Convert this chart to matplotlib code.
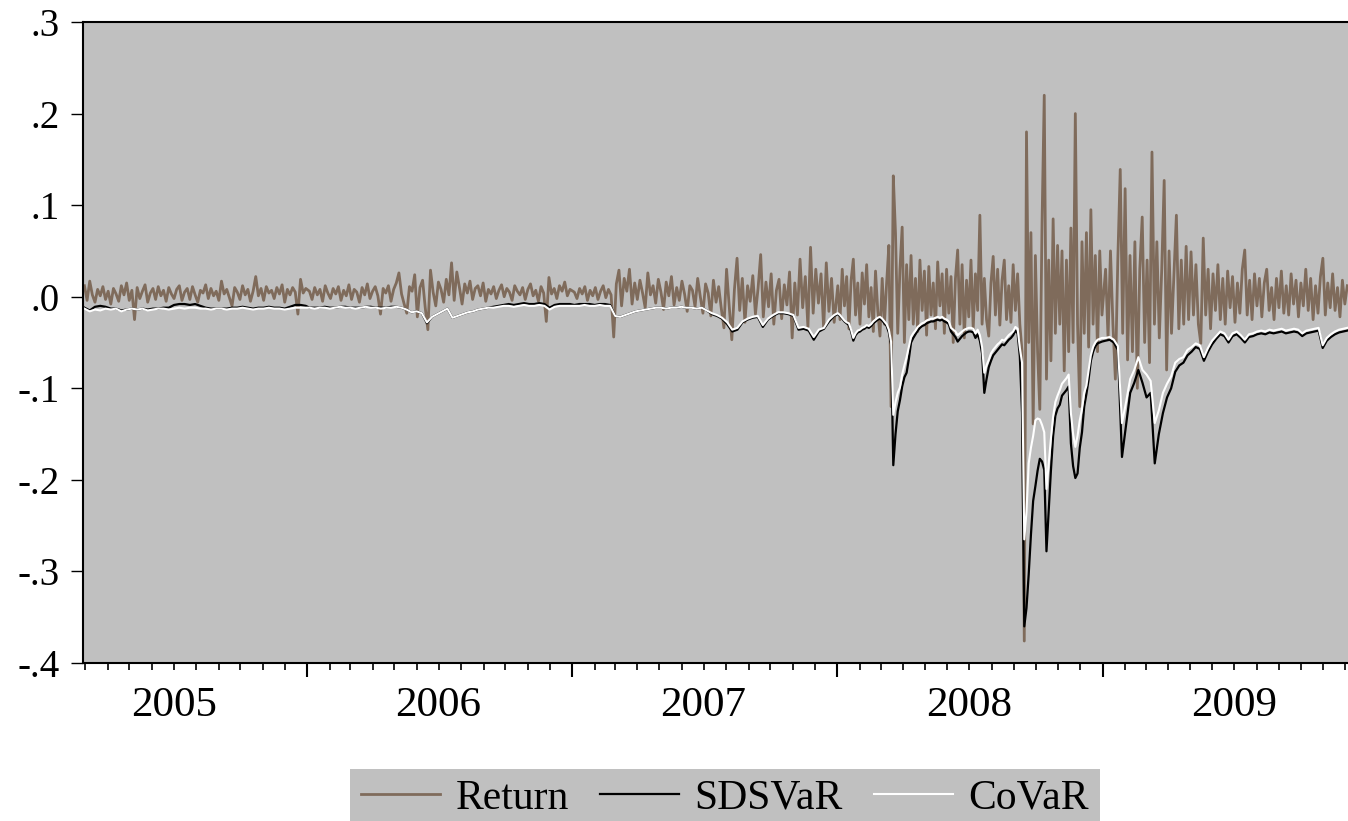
import numpy as np
import pandas as pd
import matplotlib
matplotlib.use("Agg")
import matplotlib.pyplot as plt
import matplotlib.dates as mdates
from matplotlib.ticker import FuncFormatter

plt.rcParams['font.family'] = ['Liberation Serif', 'DejaVu Serif']

# sample windows, one per calendar year
periods = [("2005-02-28", "2005-12-30"), ("2006-01-04", "2006-12-29"),
           ("2007-01-04", "2007-12-28"), ("2008-01-02", "2008-12-31"),
           ("2009-01-05", "2009-12-04")]

# === Return (sampled) ===
ret_2005 = [
    .012, -.004, .017, .002, -.006, .008, .001, .011, -.003, .006,
    -.008, .009, .003, -.005, .012, .002, .015, -.004, .007, -.025,
    .010, -.002, .006, .013, -.006, .004, .009, -.003, .011, .001,
    .007, -.005, .010, .003, -.002, .008, .012, -.004, .005, .009,
    -.003, .011, .002, -.006, .007, .004, .013, -.002, .009, .001,
    .006, -.004, .017, .003, .008, -.001, -.010, .010, .005, -.003,
    .012, .002, .008, -.005, .006, .022, .001, .009, -.004, .011,
    .004, .007, -.002, .010, .003, .013, -.006, .008, .002, .010,
    .005, -.019, .019, .004, .009]
ret_2006 = [
    .006, -.003, .010, .002, .008, -.005, .012, .004, -.002, .009,
    .003, .011, -.004, .007, .001, .013, -.003, .008, .005, -.006,
    .010, .002, .014, -.002, .006, .011, .001, -.019, .009, .004,
    .012, -.005, .008, .015, .026, .003, -.008, -.018, .011, .006,
    .024, -.022, .010, .018, -.012, -.036, .029, .005, -.010, .016,
    .008, -.006, .019, .002, .037, -.004, .027, .010, -.008, .014,
    .004, .017, -.003, .009, .012, .001, .015, -.005, .008, .003,
    .011, -.002, .007, .013, .000, .009, .005, -.004, .012, .006,
    .002, .010, -.003, .008, .014, .001, .007, -.005, .011, .004,
    -.027, .021, .003, .009, -.002, .012, .006, .016, .001, .008]
ret_2007 = [
    .005, -.002, .009, .003, .011, -.004, .007, .001, .010, -.003,
    .006, .012, -.001, .008, .002, -.044, .014, .029, -.010, .020,
    .006, .030, -.008, .015, -.003, .018, .004, -.012, .026, .002,
    .012, -.007, .019, .005, -.014, .016, .001, .022, -.009, .010,
    -.004, .017, .003, -.016, .012, .007, -.011, .020, .000, -.018,
    .014, .004, -.021, .018, -.006, .011, -.013, -.034, .030, -.010,
    -.047, .008, .042, -.015, .020, -.028, .012, -.005, .023, -.019,
    .009, .046, -.022, .016, -.011, .025, -.030, .007, .019, -.024,
    .013, -.009, .027, -.045, .015, -.020, .041, -.012, .022, -.033,
    .054, -.018, .030, -.007, .025, -.035, .037, -.016, .020, -.028]
ret_2008 = [
    .012, -.025, .030, -.010, .022, -.035, .018, .041, -.020, .015,
    -.030, .026, -.008, .035, -.022, .010, -.038, .028, -.015, -.043,
    .020, -.030, .015, .056, -.120, .132, .069, -.040, .030, .076,
    -.050, .035, -.025, .045, -.030, .020, -.038, .040, -.015, .028,
    -.042, .033, -.020, .015, -.035, .038, -.010, .025, -.040, .030,
    -.018, .022, -.050, .020, .051, -.030, .035, -.045, .018, -.022,
    .040, -.035, .025, -.015, .089, -.030, .020, -.025, -.043, .015,
    .044, -.020, .030, -.031, .018, .040, -.025, .012, -.028, .035,
    -.015, .025, -.030, -.060, -.376, .180, -.050, .070, -.139, .045,
    -.060, -.123, .080, .220, -.090, .040, -.070, .085, -.040, .056,
    -.030, .050, -.081, .040, -.060, .075, -.050, .200, -.030, -.120,
    .060, -.040, .070, -.055, .095, -.030, .045, -.060, .050, -.020]
ret_2009 = [
    .030, -.045, .050, -.030, -.090, .040, .139, -.040, .118, -.069,
    .045, -.060, .060, -.100, .030, .087, -.050, .040, -.072, .158,
    -.030, .060, -.045, .030, .127, -.080, .050, -.040, .025, .089,
    -.035, .040, -.030, .055, -.025, .049, -.020, .035, -.030, -.051,
    .064, -.020, .030, -.035, .025, -.015, .035, -.025, .020, -.030,
    .028, -.012, .022, -.028, .015, -.018, .030, .051, -.020, .018,
    -.025, .025, -.010, .020, -.022, .015, .030, -.015, .010, -.025,
    .020, -.012, .028, -.018, .012, -.020, .025, -.008, .018, -.022,
    .015, -.010, .030, -.015, .020, -.025, .012, -.018, .022, .042,
    -.020, .015, -.012, .025, -.015, .010, -.022, .018, -.008, .012]

# === SDSVaR ===
sdsvar_2005 = [
    -.012, -.015, -.011, -.010, -.011, -.013, -.013, -.015, -.014, -.013,
    -.014, -.013, -.014, -.013, -.013, -.012, -.012, -.009, -.008, -.008,
    -.009, -.008, -.010, -.012, -.013, -.013, -.013, -.013, -.012, -.012,
    -.011, -.012, -.013, -.012, -.012, -.011, -.012, -.012, -.013, -.011,
    -.009, -.009, -.010]
sdsvar_2006 = [
    -.012, -.012, -.012, -.011, -.012, -.012, -.011, -.011, -.012, -.012,
    -.012, -.011, -.011, -.012, -.012, -.012, -.011, -.011, -.012, -.014,
    -.017, -.016, -.018, -.029, -.022, -.019, -.016, -.013, -.023, -.021,
    -.019, -.017, -.016, -.014, -.013, -.012, -.011, -.010, -.009, -.008,
    -.009, -.008, -.007, -.008, -.008, -.007, -.008, -.012, -.009, -.008,
    -.008, -.008]
sdsvar_2007 = [
    -.009, -.008, -.008, -.008, -.009, -.008, -.008, -.009, -.021, -.022,
    -.020, -.018, -.016, -.015, -.014, -.013, -.012, -.012, -.013, -.012,
    -.012, -.011, -.012, -.012, -.013, -.012, -.015, -.019, -.021, -.024,
    -.030, -.038, -.036, -.028, -.025, -.023, -.022, -.033, -.025, -.021,
    -.018, -.018, -.019, -.021, -.036, -.035, -.037, -.047, -.038, -.035,
    -.027, -.021]
sdsvar_2008 = [
    -.019, -.021, -.024, -.027, -.029, -.031, -.038, -.048, -.042, -.039,
    -.038, -.036, -.035, -.033, -.034, -.032, -.029, -.027, -.025, -.024,
    -.026, -.029, -.032, -.039, -.052, -.184, -.150, -.125, -.113, -.098,
    -.088, -.083, -.068, -.050, -.045, -.041, -.037, -.034, -.032, -.031,
    -.029, -.028, -.027, -.027, -.026, -.025, -.026, -.025, -.027, -.028,
    -.030, -.038, -.041, -.044, -.049, -.046, -.043, -.041, -.039, -.038,
    -.038, -.039, -.045, -.041, -.048, -.062, -.105, -.090, -.077, -.070,
    -.064, -.061, -.058, -.055, -.052, -.053, -.050, -.047, -.045, -.042,
    -.037, -.040, -.065, -.127, -.360, -.340, -.303, -.260, -.223, -.207,
    -.190, -.177, -.180, -.189, -.278, -.235, -.190, -.152, -.130, -.122,
    -.118, -.108, -.105, -.102, -.098, -.160, -.185, -.198, -.193, -.165,
    -.148, -.120, -.106, -.090, -.070, -.060, -.054, -.051, -.050, -.049]
sdsvar_2009 = [
    -.048, -.047, -.050, -.058, -.175, -.140, -.105, -.094, -.080, -.094,
    -.110, -.105, -.182, -.150, -.127, -.110, -.100, -.082, -.075, -.072,
    -.064, -.060, -.055, -.057, -.070, -.060, -.052, -.046, -.041, -.043,
    -.050, -.043, -.041, -.045, -.050, -.044, -.043, -.041, -.040, -.041,
    -.039, -.040, -.039, -.038, -.040, -.039, -.038, -.039, -.043, -.040,
    -.039, -.038, -.037, -.056, -.048, -.044, -.041, -.039, -.038, -.037]

# === CoVaR ===
covar_2005 = [
    -.013, -.016, -.014, -.015, -.013, -.014, -.013, -.016, -.014, -.013,
    -.014, -.013, -.015, -.014, -.013, -.013, -.014, -.013, -.012, -.013,
    -.012, -.012, -.013, -.013, -.014, -.013, -.013, -.014, -.013, -.013,
    -.012, -.013, -.014, -.013, -.013, -.012, -.013, -.013, -.014, -.013,
    -.012, -.012, -.012]
covar_2006 = [
    -.012, -.013, -.012, -.012, -.013, -.012, -.011, -.012, -.012, -.013,
    -.012, -.011, -.012, -.012, -.013, -.012, -.012, -.011, -.012, -.014,
    -.017, -.016, -.018, -.028, -.022, -.019, -.016, -.013, -.023, -.021,
    -.019, -.017, -.016, -.014, -.013, -.012, -.012, -.011, -.010, -.010,
    -.011, -.010, -.009, -.010, -.010, -.009, -.010, -.014, -.011, -.010,
    -.010, -.010]
covar_2007 = [
    -.010, -.010, -.009, -.010, -.010, -.009, -.010, -.010, -.021, -.022,
    -.020, -.018, -.016, -.015, -.014, -.013, -.012, -.012, -.013, -.012,
    -.012, -.011, -.012, -.012, -.013, -.012, -.015, -.018, -.020, -.023,
    -.028, -.036, -.034, -.027, -.024, -.022, -.021, -.031, -.024, -.020,
    -.017, -.017, -.018, -.020, -.034, -.033, -.035, -.044, -.036, -.034,
    -.025, -.020]
covar_2008 = [
    -.018, -.020, -.023, -.026, -.028, -.029, -.036, -.045, -.040, -.037,
    -.036, -.034, -.033, -.031, -.032, -.030, -.027, -.025, -.023, -.022,
    -.024, -.027, -.030, -.036, -.049, -.129, -.115, -.105, -.099, -.085,
    -.075, -.066, -.055, -.044, -.040, -.037, -.033, -.031, -.029, -.028,
    -.026, -.025, -.024, -.024, -.023, -.022, -.023, -.022, -.024, -.025,
    -.027, -.034, -.036, -.038, -.042, -.040, -.038, -.036, -.035, -.034,
    -.034, -.035, -.040, -.036, -.042, -.055, -.083, -.075, -.069, -.062,
    -.058, -.055, -.052, -.050, -.047, -.048, -.045, -.042, -.040, -.038,
    -.033, -.035, -.056, -.072, -.265, -.235, -.182, -.165, -.152, -.135,
    -.133, -.134, -.140, -.148, -.210, -.182, -.155, -.131, -.115, -.108,
    -.102, -.095, -.092, -.089, -.085, -.127, -.150, -.164, -.152, -.135,
    -.123, -.105, -.097, -.080, -.064, -.055, -.050, -.047, -.046, -.045]
covar_2009 = [
    -.045, -.044, -.047, -.054, -.138, -.115, -.090, -.080, -.066, -.080,
    -.085, -.092, -.138, -.124, -.105, -.095, -.087, -.072, -.068, -.066,
    -.058, -.055, -.051, -.053, -.066, -.056, -.048, -.043, -.038, -.040,
    -.047, -.040, -.038, -.042, -.047, -.041, -.040, -.038, -.037, -.038,
    -.036, -.037, -.036, -.035, -.037, -.036, -.035, -.036, -.040, -.037,
    -.036, -.035, -.034, -.053, -.045, -.041, -.038, -.036, -.035, -.034]

y_ticks = [-.4, -.3, -.2, -.1, 0.0, .1, .2, .3]


def stitch(chunks):
    dates, vals = [], []
    for (a, b), c in zip(periods, chunks):
        dates.extend(pd.date_range(a, b, periods=len(c)))
        vals.extend(c)
    return pd.Series(vals, index=pd.DatetimeIndex(dates))


ret = stitch([ret_2005, ret_2006, ret_2007, ret_2008, ret_2009])
sds = stitch([sdsvar_2005, sdsvar_2006, sdsvar_2007, sdsvar_2008, sdsvar_2009])
cov = stitch([covar_2005, covar_2006, covar_2007, covar_2008, covar_2009])

W, H = 1348, 821
fig = plt.figure(figsize=(W / 100, H / 100), dpi=100)
ax = fig.add_axes([83 / W, 1 - 663 / H, 1 - 83 / W, (663 - 22) / H])
ax.set_facecolor('#c0c0c0')

ax.plot(ret.index, ret.values, color='#7f6b5b', lw=2.0, label='Return')
ax.plot(sds.index, sds.values, color='black', lw=1.6, label='SDSVaR')
ax.plot(cov.index, cov.values, color='white', lw=1.5, label='CoVaR')

ax.set_ylim(-0.4, 0.3)
ax.set_xlim(pd.Timestamp('2005-02-26'), pd.Timestamp('2009-12-05'))

ax.set_yticks(y_ticks)
ax.yaxis.set_major_formatter(FuncFormatter(
    lambda v, p: f"{round(v, 1):.1f}".replace("0.", ".").replace("-.0", ".0")))

ax.xaxis.set_major_locator(mdates.YearLocator())
ax.xaxis.set_major_formatter(FuncFormatter(lambda x, p: ''))
ax.xaxis.set_minor_locator(mdates.MonthLocator())


def year_label(x, pos):
    d = mdates.num2date(x)
    return str(d.year) if d.month == 7 else ''


ax.xaxis.set_minor_formatter(FuncFormatter(year_label))

ax.tick_params(axis='x', which='major', length=10, width=1.5, direction='out')
ax.tick_params(axis='x', which='minor', length=5, width=1.2, direction='out',
               labelsize=31, pad=12)
ax.tick_params(axis='y', length=9, width=1, direction='out', labelsize=28, pad=8)

ax.spines['right'].set_visible(False)
for s in ['left', 'bottom', 'top']:
    ax.spines[s].set_linewidth(1.5)
    ax.spines[s].set_color('black')

leg = ax.legend(loc='upper center', bbox_to_anchor=(725 / W, 1 - 769 / H),
                bbox_transform=fig.transFigure, ncol=3, frameon=True,
                fancybox=False, facecolor='#c0c0c0', edgecolor='none',
                framealpha=1, fontsize=30, handlelength=1.9,
                handletextpad=0.37, columnspacing=0.75, borderpad=0.25,
                borderaxespad=0)
leg.get_frame().set_linewidth(0)

fig.savefig('out.png', dpi=100)
